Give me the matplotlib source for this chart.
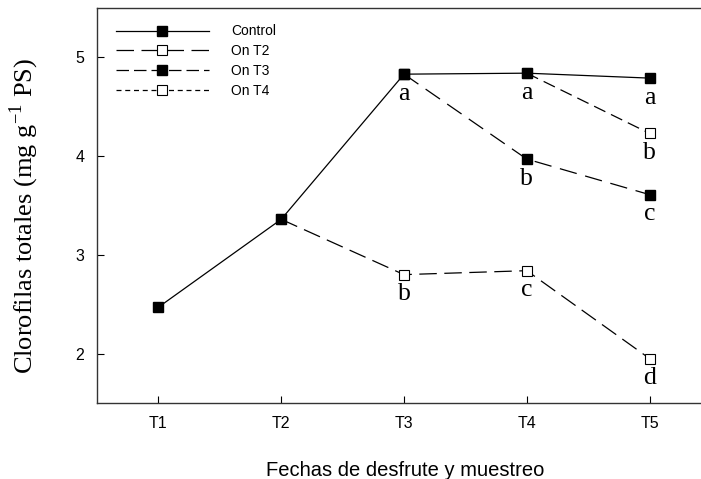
import matplotlib.pyplot as plt
from matplotlib.lines import Line2D

plt.rcParams['mathtext.fontset'] = 'custom'
plt.rcParams['mathtext.rm'] = 'Liberation Serif'

fechas = ['T1', 'T2', 'T3', 'T4', 'T5']
x = [1, 2, 3, 4, 5]

control = [2.47, 3.36, 4.83, 4.84, 4.79]
on_t2 = [3.36, 2.80, 2.84, 1.95]
on_t3 = [4.83, 3.97, 3.61]
on_t4 = [4.84, 4.23]

# letras de significancia (x, y, letra)
letras_x = [3, 3, 4, 4, 4, 5, 5, 5, 5]
letras_y = [4.83, 2.80, 4.84, 3.97, 2.84, 4.79, 4.23, 3.61, 1.95]
letras = ['a', 'b', 'a', 'b', 'c', 'a', 'b', 'c', 'd']

fig = plt.figure(figsize=(7.01, 4.79), dpi=100)
ax = fig.add_axes([97 / 701, 76 / 479, 614 / 701, 395 / 479])

lw = 0.9
ms = 7.5
ax.plot(x[1:], on_t2, color='black', lw=lw, dashes=(14, 6), marker='s',
        ms=ms, mfc='white', mec='black', mew=0.8, zorder=2)
ax.plot(x[2:], on_t3, color='black', lw=lw, dashes=(14, 7), marker='s',
        ms=ms, mfc='black', mec='black', zorder=2)
ax.plot(x[3:], on_t4, color='black', lw=lw, dashes=(10, 5), marker='s',
        ms=ms, mfc='white', mec='black', mew=0.8, zorder=2)
ax.plot(x, control, color='black', lw=lw, marker='s', ms=ms,
        mfc='black', mec='black', zorder=3)

for xi, yi, t in zip(letras_x, letras_y, letras):
    ax.annotate(t, (xi, yi), xytext=(0, -14), textcoords='offset points',
                ha='center', va='center', fontsize=18.5,
                family='Liberation Serif')

handles = [
    Line2D([], [], color='black', lw=lw, marker='s', ms=ms, mfc='black'),
    Line2D([], [], color='black', lw=lw, dashes=(14, 6), marker='s', ms=ms,
           mfc='white', mew=0.8),
    Line2D([], [], color='black', lw=lw, dashes=(10, 4), marker='s', ms=ms,
           mfc='black'),
    Line2D([], [], color='black', lw=lw, dashes=(4, 3), marker='s', ms=ms,
           mfc='white', mew=0.8),
]
ax.legend(handles, ['Control', 'On T2', 'On T3', 'On T4'], loc='upper left',
          bbox_to_anchor=(0.01, 0.99), frameon=False, handlelength=6.7,
          handletextpad=1.6, labelspacing=0.42,
          prop={'family': 'Liberation Sans', 'size': 10})

ax.set_xlim(0.5, 5.5)
ax.set_ylim(1.5, 5.5)
ax.set_xticks(x)
ax.set_xticklabels(fechas)
ax.set_yticks([2, 3, 4, 5])
ax.tick_params(direction='in', length=5, width=0.8, labelsize=11.5, pad=9)
for lab in ax.get_xticklabels() + ax.get_yticklabels():
    lab.set_family('Liberation Sans')
for s in ax.spines.values():
    s.set_linewidth(1.0)
    s.set_color('#333333')

ax.set_xlabel('Fechas de desfrute y muestreo', family='Liberation Sans',
              fontsize=14.5)
ax.xaxis.set_label_coords(308 / 614, -58 / 395)
ax.set_ylabel(r'Clorofilas totales (mg g$^{\mathregular{-1}}$ PS)',
              family='Liberation Serif', fontsize=19)
ax.yaxis.set_label_coords(-56 / 614, 0.473)

fig.savefig('out.png', dpi=100)
